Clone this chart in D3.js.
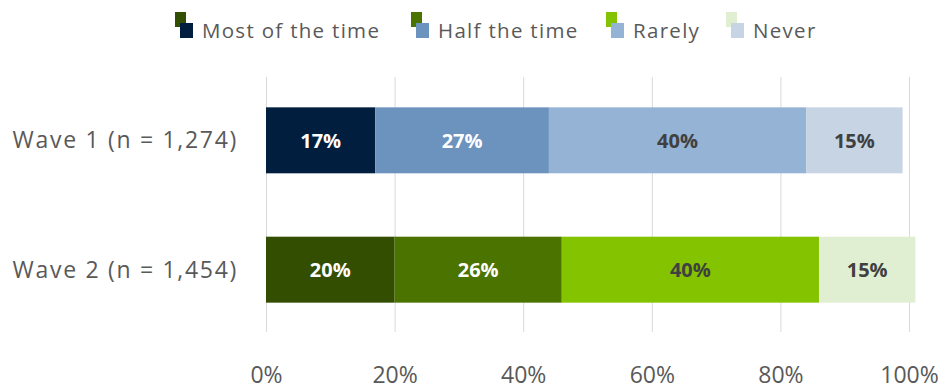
<!DOCTYPE html>
<html>
<head>
<meta charset="utf-8">
<script src="https://cdn.jsdelivr.net/npm/d3@7"></script>
<style>
  html, body { margin: 0; padding: 0; background: #fff; }
  svg { display: block; }
</style>
</head>
<body>
<svg id="chart" width="945" height="391"></svg>
<script>
// Response categories, in stacking order
const categories = ["Most of the time", "Half the time", "Rarely", "Never"];
// Survey waves (rows)
const waves = ["Wave 1 (n = 1,274)", "Wave 2 (n = 1,454)"];
// Share of respondents per category, one array per wave
const wave1Values = [17, 27, 40, 15];
const wave2Values = [20, 26, 40, 15];
// Axis ticks
const tickValues = [0, 20, 40, 60, 80, 100];

// Palettes: blue for wave 1, green for wave 2
const wave1Colors = ["#021e3f", "#6c93be", "#95b3d4", "#c7d4e4"];
const wave2Colors = ["#334e00", "#4b7300", "#84c300", "#e0efd2"];
const labelColors = ["#ffffff", "#ffffff", "#404040", "#404040"];

const svg = d3.select("#chart");
const font = "'Open Sans', 'Segoe UI', sans-serif";

const x = d3.scaleLinear().domain([0, 100]).range([266, 909]);
const y = d3.scaleBand().domain(waves).range([75, 335]).paddingInner(0.49).paddingOuter(0.25);

// Gridlines
svg.append("g")
  .selectAll("line")
  .data(tickValues)
  .join("line")
  .attr("x1", d => x(d) + 0.5).attr("x2", d => x(d) + 0.5)
  .attr("y1", 77).attr("y2", 332)
  .attr("stroke", "#d9d9d9").attr("stroke-width", 1);

// Axis tick labels
const axis = d3.axisBottom(x).tickValues(tickValues).tickFormat(d => d + "%").tickSize(0).tickPadding(0);
const axisG = svg.append("g").attr("transform", "translate(0,383)").call(axis);
axisG.select(".domain").remove();
axisG.selectAll("text")
  .attr("font-family", font).attr("font-size", 23).attr("fill", "#595959")
  .attr("dy", "0");

// Row labels
svg.append("g")
  .selectAll("text")
  .data(waves)
  .join("text")
  .attr("x", 238)
  .attr("y", d => y(d) + y.bandwidth() / 2)
  .attr("dy", "0.35em")
  .attr("text-anchor", "end")
  .attr("font-family", font).attr("font-size", 23).attr("letter-spacing", "1.7px")
  .attr("fill", "#595959")
  .text(d => d);

// Stacked segments
const rows = [
  { wave: waves[0], values: wave1Values, colors: wave1Colors },
  { wave: waves[1], values: wave2Values, colors: wave2Colors }
];

rows.forEach(row => {
  let acc = 0;
  const segs = row.values.map((v, i) => {
    const s = { start: acc, end: acc + v, value: v, i };
    acc += v;
    return s;
  });
  const g = svg.append("g");
  g.selectAll("rect")
    .data(segs)
    .join("rect")
    .attr("x", d => x(d.start))
    .attr("width", d => x(d.end) - x(d.start))
    .attr("y", y(row.wave))
    .attr("height", y.bandwidth())
    .attr("fill", d => row.colors[d.i]);
  g.selectAll("text")
    .data(segs)
    .join("text")
    .attr("x", d => (x(d.start) + x(d.end)) / 2)
    .attr("y", y(row.wave) + y.bandwidth() / 2)
    .attr("dy", "0.36em")
    .attr("text-anchor", "middle")
    .attr("font-family", font).attr("font-weight", 700).attr("font-size", 20)
    .attr("fill", d => labelColors[d.i])
    .text(d => d.value + "%");
});

// Legend: each swatch shows both the green and blue shade
const legendTextX = [202, 438, 633, 753];
const legend = svg.append("g");
categories.forEach((c, i) => {
  const tx = legendTextX[i];
  legend.append("rect").attr("x", tx - 27).attr("y", 12).attr("width", 11).attr("height", 15).attr("fill", wave2Colors[i]);
  legend.append("rect").attr("x", tx - 22).attr("y", 23).attr("width", 13).attr("height", 15).attr("fill", wave1Colors[i]);
  legend.append("text")
    .attr("x", tx).attr("y", 38)
    .attr("font-family", font).attr("font-size", 20.5).attr("letter-spacing", "1.3px")
    .attr("fill", "#595959")
    .text(c);
});
</script>
</body>
</html>
